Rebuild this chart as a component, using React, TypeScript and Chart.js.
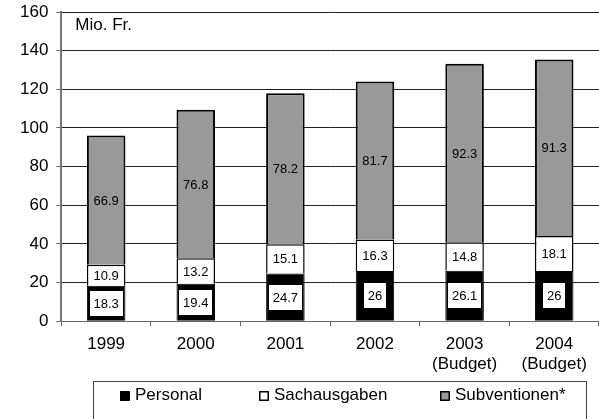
import React, { useEffect, useRef } from "react";
import { Chart, registerables } from "chart.js";

Chart.register(...registerables);

const categories: string[][] = [["1999"], ["2000"], ["2001"], ["2002"], ["2003", "(Budget)"], ["2004", "(Budget)"]];
const personal = [18.3, 19.4, 24.7, 26, 26.1, 26];
const sachausgaben = [10.9, 13.2, 15.1, 16.3, 14.8, 18.1];
const subventionen = [66.9, 76.8, 78.2, 81.7, 92.3, 91.3];
const seriesNames = ["Personal", "Sachausgaben", "Subventionen*"];
const yMin = 0;
const yMax = 160;
const yStep = 20;
const unitLabel = "Mio. Fr.";

const FONT = '"Liberation Sans", Arial, sans-serif';

const segLabels = {
  id: "segLabels",
  afterDatasetsDraw(chart: any) {
    const ctx = chart.ctx;
    ctx.save();
    ctx.font = `13px ${FONT}`;
    ctx.textAlign = "center";
    ctx.textBaseline = "middle";
    chart.data.datasets.forEach((ds: any, di: number) => {
      const meta = chart.getDatasetMeta(di);
      meta.data.forEach((el: any, i: number) => {
        const { x, y, base } = el.getProps(["x", "y", "base"], true);
        const cy = (y + base) / 2;
        const text = String(ds.data[i]);
        if (di === 0) {
          const w = ctx.measureText(text).width + 8;
          const h = 25;
          ctx.fillStyle = "#ffffff";
          ctx.fillRect(Math.round(x - w / 2), Math.round(cy - h / 2), Math.round(w), h);
        }
        ctx.fillStyle = "#000000";
        ctx.fillText(text, x, cy + 1);
      });
    });
    ctx.restore();
  },
};

const extras = {
  id: "extras",
  afterDraw(chart: any) {
    const ctx = chart.ctx;
    const area = chart.chartArea;
    ctx.save();
    // unit label
    ctx.font = `17px ${FONT}`;
    ctx.fillStyle = "#000";
    ctx.textAlign = "left";
    ctx.textBaseline = "middle";
    ctx.fillText(unitLabel, area.left + 14, area.top + 13);

    // legend box
    const left = Math.round(area.left + 32);
    const right = Math.round(area.right - 13);
    const top = Math.round(area.bottom + 60);
    const bottom = top + 40;
    ctx.strokeStyle = "#444";
    ctx.lineWidth = 1;
    ctx.strokeRect(left + 0.5, top + 0.5, right - left, bottom - top);
    const offsets = [27, 166, 347];
    const cy = top + 14.5;
    chart.data.datasets.forEach((ds: any, i: number) => {
      const sx = left + offsets[i];
      const sz = 10;
      const sy = Math.round(cy - sz / 2);
      ctx.fillStyle = ds.backgroundColor;
      ctx.fillRect(sx, sy, sz, sz);
      ctx.strokeStyle = "#000";
      ctx.lineWidth = 1.5;
      ctx.strokeRect(sx + 0.75, sy + 0.75, sz - 1.5, sz - 1.5);
      ctx.fillStyle = "#000";
      ctx.font = `17px ${FONT}`;
      ctx.textBaseline = "middle";
      ctx.fillText(ds.label, sx + 15, cy);
    });
    ctx.restore();
  },
};

export default function App() {
  const ref = useRef<HTMLCanvasElement | null>(null);
  useEffect(() => {
    document.body.style.margin = "0";
    const canvas = ref.current;
    if (!canvas) return;
    const chart = new Chart(canvas, {
      type: "bar",
      data: {
        labels: categories,
        datasets: [
          {
            label: seriesNames[0],
            data: personal,
            backgroundColor: "#000000",
            borderColor: "#000000",
            borderWidth: 1,
          },
          {
            label: seriesNames[1],
            data: sachausgaben,
            backgroundColor: "#ffffff",
            borderColor: "#000000",
            borderWidth: 1.5,
          },
          {
            label: seriesNames[2],
            data: subventionen,
            backgroundColor: "#999999",
            borderColor: "#000000",
            borderWidth: 2,
          },
        ],
      },
      options: {
        responsive: false,
        animation: false,
        layout: { padding: { top: 0, right: 0, bottom: 36, left: 12 } },
        datasets: { bar: { barPercentage: 0.43, categoryPercentage: 1 } },
        plugins: {
          legend: { display: false },
          tooltip: { enabled: false },
          title: { display: false },
        },
        scales: {
          x: {
            stacked: true,
            offset: true,
            grid: {
              display: true,
              offset: true,
              drawOnChartArea: false,
              drawTicks: true,
              tickLength: 5,
              color: "#666",
            },
            border: { display: true, color: "#666", width: 1 },
            ticks: {
              color: "#000",
              font: { family: FONT, size: 17 },
              padding: 8,
              maxRotation: 0,
              autoSkip: false,
            },
          },
          y: {
            stacked: true,
            min: yMin,
            max: yMax,
            afterFit(scale: any) {
              scale.paddingTop = 12;
              scale.paddingBottom = 10;
            },
            grid: {
              color: "#222",
              lineWidth: 1,
              drawTicks: true,
              tickLength: 5,
              tickColor: "#666",
            },
            border: { display: true, color: "#777", width: 2 },
            ticks: {
              stepSize: yStep,
              color: "#000",
              font: { family: FONT, size: 17 },
              padding: 8,
            },
          },
        },
      },
      plugins: [segLabels, extras],
    });
    return () => chart.destroy();
  }, []);
  return (
    <div style={{ position: "absolute", left: 0, top: 0, width: 599, height: 419, background: "#fff" }}>
      <canvas ref={ref} width={599} height={419} style={{ width: 599, height: 419, display: "block" }} />
    </div>
  );
}
